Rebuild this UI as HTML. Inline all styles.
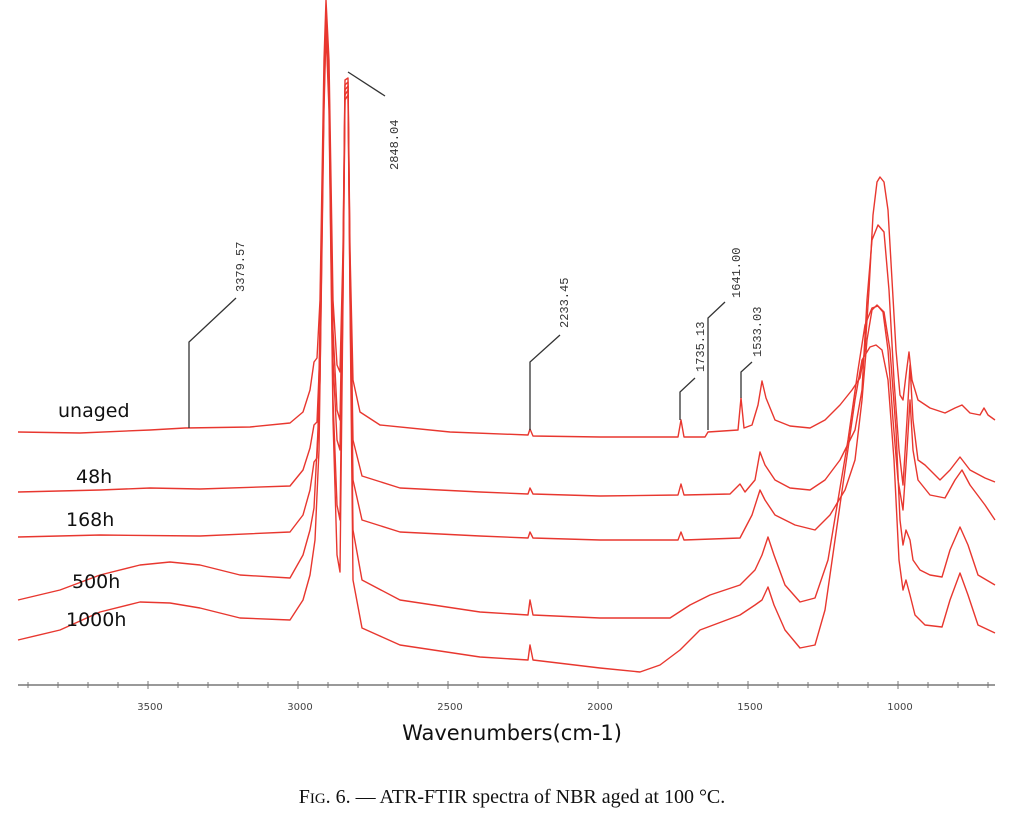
<!DOCTYPE html>
<html><head><meta charset="utf-8"><style>
body{margin:0;background:#fff;width:1022px;height:824px;overflow:hidden}
svg{display:block}
.s{fill:none;stroke:#e8372f;stroke-width:1.4;stroke-linejoin:round}
.a{fill:none;stroke:#333;stroke-width:1.3}
.n{font-family:"Liberation Mono",monospace;font-size:12px;fill:#333}
.l{font-family:"DejaVu Sans","Liberation Sans",sans-serif;font-size:19px;fill:#111}
.t{font-family:"DejaVu Sans","Liberation Sans",sans-serif;font-size:10px;fill:#444}
</style></head><body>
<svg width="1022" height="824" viewBox="0 0 1022 824">
<!-- unaged -->
<path class="s" d="M18,432 L80,433 L150,430 L185,428 L250,427 L290,423 L303,412 L310,390 L314,362 L317,358 L320,300 L324,60 L326,0 L329,60 L333,300 L337,365 L340,372 L343,250 L345,80 L348,78 L350,250 L353,380 L360,412 L380,425 L450,432 L528,435 L530,429 L533,436 L600,437 L678,437 L681,420 L684,437 L705,437 L708,432 L738,430 L741,398 L744,428 L752,425 L758,405 L762,381 L766,398 L775,420 L790,426 L810,428 L825,420 L840,405 L852,390 L860,378 L865,350 L869,290 L873,215 L877,182 L880,177 L884,182 L888,210 L892,280 L896,350 L900,395 L903,400 L906,375 L909,352 L912,380 L918,400 L930,408 L945,413 L955,408 L962,405 L970,413 L980,415 L984,408 L988,415 L995,420"/>
<!-- 48h -->
<path class="s" d="M18,492 L100,490 L150,488 L200,489 L290,486 L303,470 L310,448 L314,425 L317,422 L320,350 L324,80 L326,10 L329,80 L333,330 L337,410 L340,420 L343,260 L345,85 L348,82 L350,260 L353,440 L362,476 L400,488 L480,492 L528,494 L530,488 L533,494 L600,496 L678,495 L681,484 L684,495 L730,494 L740,484 L745,492 L755,480 L760,452 L765,465 L775,480 L790,488 L810,490 L825,480 L840,460 L855,430 L862,390 L867,300 L872,240 L878,225 L884,232 L889,290 L894,380 L899,450 L903,485 L907,420 L910,365 L913,420 L918,460 L925,465 L940,480 L950,470 L960,457 L970,470 L985,478 L995,482"/>
<!-- 168h -->
<path class="s" d="M18,537 L100,535 L200,536 L290,532 L303,515 L310,490 L314,462 L317,458 L320,380 L324,90 L326,20 L329,90 L333,360 L337,440 L340,450 L343,270 L345,90 L348,86 L350,270 L353,480 L362,520 L400,532 L480,536 L528,538 L530,532 L533,538 L600,540 L678,540 L681,532 L684,540 L740,538 L752,515 L760,490 L765,500 L775,515 L795,525 L815,530 L830,515 L845,490 L855,460 L862,400 L867,340 L872,310 L877,305 L883,312 L888,350 L893,420 L898,480 L903,510 L907,450 L910,400 L913,450 L918,480 L930,495 L945,498 L955,480 L962,470 L970,485 L985,505 L995,520"/>
<!-- 500h -->
<path class="s" d="M18,600 L60,590 L100,575 L140,565 L170,562 L200,565 L240,575 L290,578 L303,555 L310,530 L314,508 L318,430 L324,100 L326,25 L329,100 L333,400 L337,505 L340,520 L343,290 L345,95 L348,90 L350,290 L353,530 L362,580 L400,600 L480,612 L528,615 L530,600 L533,615 L600,618 L670,618 L690,605 L710,595 L740,585 L755,570 L762,555 L768,537 L774,555 L785,585 L800,602 L815,598 L828,560 L838,500 L848,440 L858,370 L865,325 L872,308 L878,306 L884,312 L890,350 L896,430 L900,520 L903,545 L906,530 L910,540 L913,560 L920,570 L930,575 L942,577 L950,550 L960,527 L968,545 L978,575 L995,585"/>
<!-- 1000h -->
<path class="s" d="M18,640 L60,630 L100,612 L140,602 L170,603 L200,608 L240,618 L290,620 L303,600 L310,575 L315,540 L319,450 L324,110 L326,30 L329,110 L333,420 L337,555 L340,572 L343,300 L345,100 L348,95 L350,300 L353,580 L362,628 L400,645 L480,657 L528,660 L530,645 L533,660 L600,668 L640,672 L660,665 L680,650 L700,630 L740,615 L755,605 L762,600 L768,587 L774,605 L785,630 L800,648 L815,645 L825,610 L835,540 L845,470 L855,400 L862,360 L870,347 L876,345 L882,350 L888,380 L894,460 L899,560 L903,590 L906,580 L910,595 L915,615 L925,625 L942,627 L950,600 L960,573 L968,595 L978,625 L995,633"/>
<!-- annotations -->
<path class="a" d="M189,428 L189,342 L236,298"/>
<text class="n" transform="translate(244,292) rotate(-90)">3379.57</text>
<path class="a" d="M348,72 L385,96"/>
<text class="n" transform="translate(398,170) rotate(-90)">2848.04</text>
<path class="a" d="M530,430 L530,362 L560,335"/>
<text class="n" transform="translate(568,328) rotate(-90)">2233.45</text>
<path class="a" d="M680,420 L680,392 L695,378"/>
<text class="n" transform="translate(704,372) rotate(-90)">1735.13</text>
<path class="a" d="M708,430 L708,318 L725,302"/>
<text class="n" transform="translate(740,298) rotate(-90)">1641.00</text>
<path class="a" d="M741,398 L741,372 L752,362"/>
<text class="n" transform="translate(761,357) rotate(-90)">1533.03</text>
<!-- labels -->
<text class="l" x="58" y="417">unaged</text>
<text class="l" x="76" y="483">48h</text>
<text class="l" x="66" y="526">168h</text>
<text class="l" x="72" y="588">500h</text>
<text class="l" x="66" y="626">1000h</text>
<!-- axis -->
<line x1="18" y1="685" x2="995" y2="685" stroke="#999" stroke-width="2"/>
<g stroke="#777" stroke-width="1">
<line x1="28" y1="682" x2="28" y2="688"/><line x1="58" y1="682" x2="58" y2="688"/><line x1="88" y1="682" x2="88" y2="688"/><line x1="118" y1="682" x2="118" y2="688"/><line x1="148" y1="681" x2="148" y2="689"/><line x1="178" y1="682" x2="178" y2="688"/><line x1="208" y1="682" x2="208" y2="688"/><line x1="238" y1="682" x2="238" y2="688"/><line x1="268" y1="682" x2="268" y2="688"/><line x1="298" y1="681" x2="298" y2="689"/><line x1="328" y1="682" x2="328" y2="688"/><line x1="358" y1="682" x2="358" y2="688"/><line x1="388" y1="682" x2="388" y2="688"/><line x1="418" y1="682" x2="418" y2="688"/><line x1="448" y1="681" x2="448" y2="689"/><line x1="478" y1="682" x2="478" y2="688"/><line x1="508" y1="682" x2="508" y2="688"/><line x1="538" y1="682" x2="538" y2="688"/><line x1="568" y1="682" x2="568" y2="688"/><line x1="598" y1="681" x2="598" y2="689"/><line x1="628" y1="682" x2="628" y2="688"/><line x1="658" y1="682" x2="658" y2="688"/><line x1="688" y1="682" x2="688" y2="688"/><line x1="718" y1="682" x2="718" y2="688"/><line x1="748" y1="681" x2="748" y2="689"/><line x1="778" y1="682" x2="778" y2="688"/><line x1="808" y1="682" x2="808" y2="688"/><line x1="838" y1="682" x2="838" y2="688"/><line x1="868" y1="682" x2="868" y2="688"/><line x1="898" y1="681" x2="898" y2="689"/><line x1="928" y1="682" x2="928" y2="688"/><line x1="958" y1="682" x2="958" y2="688"/><line x1="988" y1="682" x2="988" y2="688"/>
</g>
<g class="t" text-anchor="middle">
<text x="150" y="710">3500</text><text x="300" y="710">3000</text><text x="450" y="710">2500</text><text x="600" y="710">2000</text><text x="750" y="710">1500</text><text x="900" y="710">1000</text>
</g>
<text x="512" y="740" text-anchor="middle" style="font-family:'DejaVu Sans','Liberation Sans',sans-serif;font-size:21px;fill:#111">Wavenumbers(cm-1)</text>
<text x="512" y="803" text-anchor="middle" style="font-family:'Liberation Serif',serif;font-size:20px;fill:#111">F<tspan font-size="15">IG</tspan>. 6. — ATR-FTIR spectra of NBR aged at 100 °C.</text>
</svg>
</body></html>
